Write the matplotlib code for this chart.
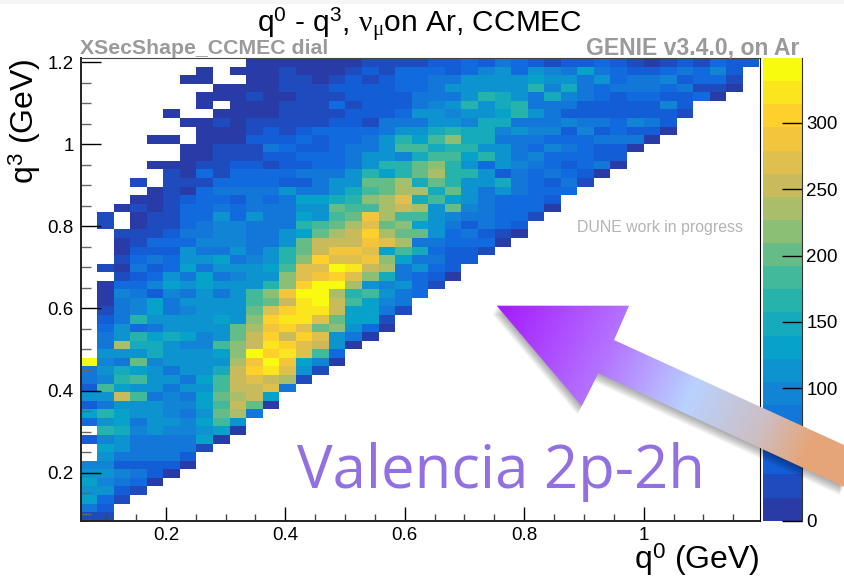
import numpy as np
import matplotlib
matplotlib.use('Agg')
import matplotlib.pyplot as plt
from matplotlib.colors import LinearSegmentedColormap, BoundaryNorm
from matplotlib.patches import Polygon

plt.rcParams['font.family'] = ['Liberation Sans', 'DejaVu Sans']
plt.rcParams['mathtext.fontset'] = 'custom'
plt.rcParams['mathtext.rm'] = 'Liberation Sans'
plt.rcParams['mathtext.it'] = 'Liberation Serif'
plt.rcParams['mathtext.bf'] = 'Liberation Sans:bold'

# q0 / q3 axis ranges and binning
x_range = [0.057, 1.194]
y_range = [0.083, 1.21]
n_x = 41
n_y = 54

# first filled q0 bin of each q3 row, top row first
first_bin = [10, 7, 6, 8, 7, 7, 5, 6, 7, 4, 6, 6, 4, 5, 3, 4, 3, 2, 1, 1, 2, 2, 2, 2, 1, 2, 1,
             1, 1, 1, 1, 1, 1, 1, 1, 0, 0, 0, 0, 0, 0, 0, 0, 1, 0, 1, 1, 0, 0, 0, 0, 0, 0, 0]

# bin contents, 0 = empty bin
counts = [
    [12,12,14,14,14,12,12,28,28,28,28,45,45,60,45,78,60,50,30,45,45,55,40,30,12,28,45,28,60,45,42],
    [12,0,12,12,12,30,12,12,12,28,45,28,55,55,65,50,62,100,115,62,115,92,75,130,78,60,45,50,55,70,55,92,45],
    [12,12,0,0,12,12,28,28,12,28,45,28,50,60,62,78,78,110,115,115,115,130,112,112,78,110,60,75,72,92,45,62,60,30],
    [12,12,12,12,28,28,28,45,45,45,45,58,60,75,112,112,112,115,115,165,92,148,78,62,72,78,78,58,75,30,28,12],
    [12,12,12,30,12,12,28,28,28,45,45,45,50,72,75,75,110,165,150,115,72,150,92,80,60,45,60,60,45,48,62,12],
    [12,0,12,12,12,28,28,28,62,28,45,45,48,75,95,110,165,108,150,165,78,72,78,45,45,42,42,45,95,40],
    [12,0,0,12,12,12,12,28,28,28,28,45,45,45,62,108,110,92,112,110,125,165,112,72,52,48,46,45,45,45,46,28],
    [12,12,28,12,28,28,28,28,28,45,45,28,78,78,80,110,112,90,148,150,80,80,78,92,78,78,62,95,78,45],
    [12,12,12,28,45,28,45,62,62,62,55,80,105,110,148,165,150,150,95,112,95,92,45,95,45,60,45,45,12],
    [12,12,0,12,12,12,48,48,48,60,50,62,62,78,110,165,130,185,210,155,150,80,85,80,60,60,62,75,78,75,12],
    [12,12,28,28,28,78,60,48,48,62,78,78,110,185,185,155,165,165,110,112,85,55,92,80,62,45,45,12],
    [12,12,28,30,28,45,45,58,60,62,78,110,112,95,150,185,185,125,160,110,75,90,60,60,62,45,45],
    [12,12,12,28,28,50,50,30,48,50,62,62,80,112,160,162,205,225,160,112,60,110,92,75,60,45,60,75,12],
    [28,12,60,30,62,62,62,62,78,78,80,110,160,135,162,205,228,165,165,112,48,75,60,78,62,45,12],
    [28,0,28,28,28,62,62,62,58,45,50,78,108,112,205,205,235,155,205,160,112,110,150,78,62,45,70,28],
    [12,30,14,60,80,80,78,78,105,78,80,108,155,185,205,240,228,155,205,108,78,105,75,60,62,62],
    [12,14,30,48,65,62,48,80,62,78,125,125,150,162,225,230,272,150,190,130,108,78,62,62,60,48],
    [14,30,14,30,62,60,78,60,78,80,78,108,108,205,185,188,240,255,228,108,205,92,78,62,60,62,12],
    [30,0,14,30,30,62,62,108,62,112,78,78,125,118,185,205,285,235,178,185,108,90,80,85,62,60,30],
    [30,0,14,30,30,62,75,92,92,82,78,78,162,185,205,240,272,205,225,135,110,80,48,78,62,45],
    [30,30,30,48,75,78,92,92,78,78,105,130,205,240,255,305,235,205,205,105,55,78,48,28,12],
    [14,28,62,62,62,92,92,92,78,82,108,205,255,255,255,290,272,238,85,85,60,60,60,14],
    [14,45,48,48,108,80,78,108,85,110,160,205,250,285,288,272,125,185,155,62,50,50,28],
    [30,62,75,60,108,110,125,85,92,112,160,225,300,272,272,290,225,132,82,80,45,45],
    [30,14,70,48,62,125,85,108,108,108,130,185,272,272,342,322,255,238,85,105,62,45],
    [30,48,62,108,85,125,78,92,112,110,225,272,290,305,272,222,155,78,62,48,12],
    [14,60,60,92,125,110,125,105,108,112,162,225,305,342,342,228,112,92,110,55,28],
    [14,92,78,48,92,78,110,80,108,185,225,290,342,342,238,160,185,110,78,62],
    [14,75,92,125,78,108,110,108,108,185,205,255,325,342,252,185,130,92,78],
    [32,78,92,125,80,95,108,108,110,205,272,305,320,320,255,135,128,80,28],
    [48,78,165,108,108,108,110,125,110,225,305,320,322,272,205,135,125,32],
    [62,112,60,72,105,105,108,112,205,238,295,305,270,205,222,112,62,12],
    [72,108,165,125,150,125,92,112,205,255,305,255,305,272,108,85,12],
    [78,228,155,155,105,88,100,185,225,255,322,305,272,250,112,14],
    [108,110,108,150,108,108,110,125,225,342,305,322,272,185,62],
    [342,95,72,205,95,108,108,108,112,238,290,342,290,130,92,12],
    [80,108,140,135,108,85,105,108,150,255,305,320,272,110,30],
    [72,92,162,185,105,105,85,125,185,255,272,255,238,30],
    [48,190,130,108,105,85,105,108,185,255,252,275,80],
    [108,110,258,188,82,100,70,125,205,235,252,130],
    [50,78,105,108,108,92,90,130,185,258,205,14],
    [130,160,135,110,105,92,78,108,205,228,78],
    [60,110,125,85,105,108,95,130,185,108],
    [160,150,92,105,92,90,108,130,14],
    [48,90,108,75,75,72,85,125,14],
    [135,108,78,75,75,78,30],
    [108,78,72,70,72,45],
    [92,90,52,50,50,48,14],
    [110,108,90,75,48,14],
    [125,92,78,62,14],
    [110,115,45,28],
    [125,65,30],
    [80,48],
    [30,30],
]

x_ticks = [0.2, 0.4, 0.6, 0.8, 1.0]
x_labels = ['0.2', '0.4', '0.6', '0.8', '1']
y_ticks = [0.2, 0.4, 0.6, 0.8, 1.0, 1.2]
y_labels = ['0.2', '0.4', '0.6', '0.8', '1', '1.2']
cbar_ticks = [0, 50, 100, 150, 200, 250, 300]

W, H = 844, 580

def box(left, top, right, bottom):
    return [left / W, 1 - bottom / H, (right - left) / W, (bottom - top) / H]

# fill the table, top row of the picture is the highest q3 bin
z = np.zeros((n_y, n_x))
for j, row in enumerate(counts):
    z[n_y - 1 - j, first_bin[j]:first_bin[j] + len(row)] = row
z = np.ma.masked_equal(z, 0)

x_edges = np.linspace(x_range[0], x_range[1], n_x + 1)
y_edges = np.linspace(y_range[0], y_range[1], n_y + 1)

# ROOT kBird palette, a bit bluer at the low end like the screenshot, 20 contours
bird = [(0.16, 0.23, 0.65), (0.06, 0.39, 0.88), (0.0780, 0.5041, 0.8385),
        (0.0232, 0.6419, 0.7914), (0.1802, 0.7178, 0.6425), (0.5301, 0.7492, 0.4662),
        (0.8186, 0.7328, 0.3499), (0.9956, 0.7862, 0.1968), (0.9764, 0.9832, 0.0539)]
cmap = LinearSegmentedColormap.from_list('bird', bird, N=20)
levels = np.linspace(0, 349, 21)
norm = BoundaryNorm(levels, 20)

fig = plt.figure(figsize=(W / 100, H / 100), dpi=100)

ax = fig.add_axes(box(80.5, 58, 759.5, 520.7))
mesh = ax.pcolormesh(x_edges, y_edges, z, cmap=cmap, norm=norm, shading='flat')
ax.set_xlim(x_range)
ax.set_ylim(y_range)

ax.set_xticks(x_ticks)
ax.set_xticklabels(x_labels, fontsize=13.5)
ax.set_yticks(y_ticks)
ax.set_yticklabels(y_labels, fontsize=13.5)
ax.set_xticks(np.arange(0.1, 1.19, 0.05), minor=True)
ax.set_yticks(np.arange(0.1, 1.21, 0.05), minor=True)
ax.tick_params(axis='x', which='major', direction='in', length=10, width=1, pad=4.5)
ax.tick_params(axis='x', which='minor', direction='in', length=5, width=1, color='#444444')
ax.tick_params(axis='y', which='major', direction='in', length=14.5, width=1, pad=5)
ax.tick_params(axis='y', which='minor', direction='in', length=7.5, width=1, color='#666666')
for side in ['left', 'bottom']:
    ax.spines[side].set_linewidth(1.4)
    ax.spines[side].set_color('#222222')
ax.spines['top'].set_color('#444444')

cax = fig.add_axes(box(763, 58, 802, 520.7))
cb = fig.colorbar(mesh, cax=cax, ticks=cbar_ticks, spacing='proportional', drawedges=False)
cb.ax.minorticks_off()
cb.ax.tick_params(direction='in', length=14.5, width=1, pad=3, labelsize=13.5, right=True)
cb.outline.set_visible(False)
cax.spines['right'].set_visible(True)
cax.spines['right'].set_color('#333333')

# texts
fig.text(420 / W, 1 - 33 / H, r'q$^{0}$ - q$^{3}$, $\nu_{\mu}$on Ar, CCMEC', fontsize=21.5,
         ha='center', va='baseline')
fig.text(80 / W, 1 - 54 / H, 'XSecShape_CCMEC dial', fontsize=15.3, fontweight='bold',
         color='#9a9a9a', ha='left', va='baseline')
fig.text(799 / W, 1 - 54 / H, 'GENIE v3.4.0, on Ar', fontsize=16.6, fontweight='bold',
         color='#9a9a9a', ha='right', va='baseline')
fig.text(577 / W, 1 - 232 / H, 'DUNE work in progress', fontsize=11.4, color='#b4b4b4',
         ha='left', va='baseline')
fig.text(760 / W, 1 - 569 / H, r'q$^{0}$ (GeV)', fontsize=23, ha='right', va='baseline')
fig.text(34.5 / W, 1 - 58 / H, r'q$^{3}$ (GeV)', fontsize=23, rotation=90, ha='right', va='baseline',
         rotation_mode='anchor')

# slide overlay: arrow and label, in picture pixels
over = fig.add_axes([0, 0, 1, 1], facecolor='none')
over.set_xlim(0, W)
over.set_ylim(H, 0)
over.axis('off')

arrow_xy = [(496.7, 305.7), (629, 305.7), (614, 340), (844, 445), (844, 486.7),
            (598.3, 373.3), (581.7, 406)]
for k in range(1, 11):
    over.add_patch(Polygon([(px - k * 0.45, py + k * 0.85) for px, py in arrow_xy],
                           closed=True, fc='black', ec='none', alpha=0.035))

gx, gy = np.meshgrid(np.arange(W), np.arange(H))
t = ((gx - 496.7) * 0.9 + (gy - 305.7) * 0.42) / 340.0
stops = [0.0, 0.35, 0.62, 0.85, 1.0]
grad_r = np.interp(t, stops, [165, 180, 185, 205, 230])
grad_g = np.interp(t, stops, [25, 115, 210, 190, 165])
grad_b = np.interp(t, stops, [255, 255, 255, 195, 120])
grad = np.dstack([grad_r, grad_g, grad_b]) / 255.0
im = over.imshow(grad, extent=(0, W, H, 0), aspect='auto', interpolation='bilinear', zorder=3)
clip = Polygon(arrow_xy, closed=True, transform=over.transData, fc='none', ec='none')
over.add_patch(clip)
im.set_clip_path(clip)
over.set_xlim(0, W)
over.set_ylim(H, 0)

over.text(297, 488, 'Valencia 2p-2h', fontsize=43, color='#9370e2', family='Open Sans',
          ha='left', va='baseline', zorder=4)

# faint band left at the top of the slide grab
fig.patches.append(plt.Rectangle((0, 1 - 4 / H), 1, 4 / H, transform=fig.transFigure,
                                 fc='#f5f5f5', ec='none', figure=fig))

fig.savefig('out.png', dpi=100)
